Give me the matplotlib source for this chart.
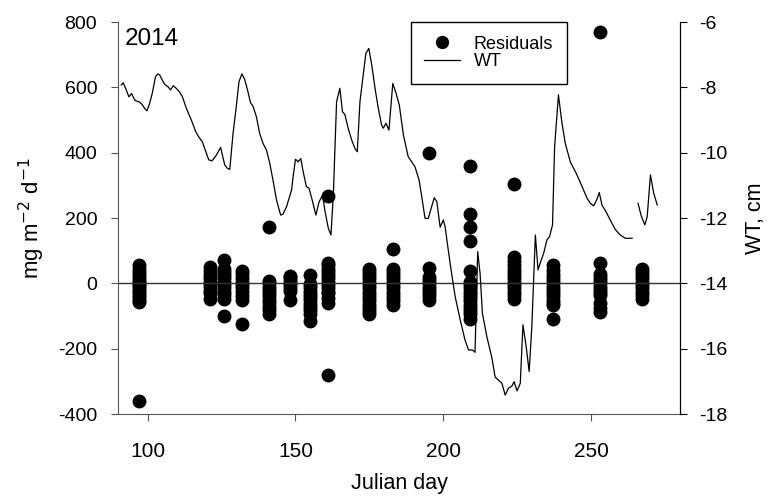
import numpy as np
import matplotlib.pyplot as plt

plt.rcParams['font.family'] = ['Liberation Sans', 'DejaVu Sans']
plt.rcParams['axes.unicode_minus'] = False

# residuals, grouped by sampling day
res_days = [97, 121, 126, 132, 141, 148, 155, 161, 175, 183, 195, 209, 224, 237, 253, 267]
res_vals = [
    [55, 45, 35, 25, 15, 8, 0, -5, -12, -20, -28, -35, -42, -50, -58, -359],
    [50, 38, 25, 15, 5, -3, -12, -22, -30, -49],
    [70, 45, 35, 25, 15, 5, -5, -15, -25, -35, -47, -100],
    [37, 28, 15, 5, -5, -15, -28, -38, -50, -123],
    [172, 8, 0, -10, -20, -30, -40, -50, -60, -72, -82, -93],
    [24, 18, 10, 2, -6, -14, -22, -52],
    [27, -2, -12, -22, -32, -42, -52, -62, -72, -82, -93, -116],
    [266, 63, 55, 45, 35, 25, 15, 5, -5, -15, -25, -31, -45, -59, -282],
    [45, 35, 25, 15, 5, -5, -15, -25, -35, -45, -55, -65, -75, -85, -93],
    [106, 45, 35, 25, 15, 5, -5, -15, -25, -35, -45, -55, -67],
    [398, 48, 20, 10, 0, -10, -20, -30, -40, -52],
    [358, 211, 174, 129, 37, 5, -5, -15, -25, -35, -45, -55, -65, -75, -85, -95, -110],
    [305, 80, 68, 55, 45, 35, 25, 15, 5, -5, -15, -25, -35, -47],
    [55, 40, 30, 20, 10, 0, -10, -20, -30, -40, -50, -60, -67, -108],
    [770, 63, 30, 20, 10, 0, -10, -20, -30, -37, -61, -75, -88],
    [45, 35, 25, 15, 5, -5, -15, -25, -35, -47],
]

# water table (cm), NaN marks the gap in the record
wt_day = [91.1, 91.8, 92.8, 93.7, 94.6, 95.3, 95.9, 97.1, 98.1, 99.0, 99.8, 100.7, 101.6,
          102.7, 103.5, 104.1, 105.0, 105.8, 106.9, 107.8, 108.7, 109.7, 110.8, 111.8,
          113.1, 114.8, 116.3, 117.4, 118.5, 119.3, 120.7, 121.8, 123.3, 124.7, 126.1,
          127.0, 127.8, 128.9, 130.0, 130.9, 131.9, 132.8, 133.8, 134.8, 135.7, 136.8,
          137.9, 139.0, 140.2, 141.3, 142.4, 143.6, 145.0, 145.8, 147.0, 148.7, 149.2,
          150.0, 150.9, 151.8, 152.6, 153.7, 154.6, 155.8, 156.9, 158.0, 159.2, 159.9,
          161.1, 162.0, 162.8, 163.9, 165.0, 165.9, 166.7, 167.8, 169.0, 170.1, 170.9,
          171.8, 172.9, 173.8, 174.8, 175.8, 176.9, 178.0, 179.1, 179.7, 180.6, 181.6,
          182.9, 184.0, 185.1, 186.5, 188.1, 190.4, 191.8, 192.7, 193.8, 194.9, 196.9,
          197.8, 198.9, 200.0, 200.6, 201.5, 202.6, 204.0, 205.7, 207.3, 208.5, 209.8,
          210.7, 211.6, 212.4, 213.2, 214.7, 216.4, 217.5, 218.6, 219.8, 220.9, 222.0,
          223.2, 223.9, 224.9, 226.0, 226.9, 228.0, 229.0, 229.9, 231.1, 232.0, 232.7,
          233.9, 235.0, 235.9, 236.9, 237.6, 238.9, 240.1, 241.2, 242.9, 244.9, 246.9,
          248.6, 249.7, 250.8, 251.9, 252.7, 253.6, 255.0, 256.4, 258.1, 259.8, 261.5,
          263.8, 264.8, 265.8, 266.9, 268.1, 268.9, 270.0, 271.1, 272.3]
wt_cm = [-7.93, -7.86, -8.08, -8.29, -8.19, -8.32, -8.41, -8.44, -8.52, -8.64, -8.72, -8.49,
         -8.18, -7.67, -7.59, -7.62, -7.78, -7.91, -7.98, -8.08, -7.95, -8.03, -8.14, -8.29,
         -8.64, -9.00, -9.36, -9.53, -9.66, -9.87, -10.22, -10.25, -10.07, -9.84, -10.38,
         -10.48, -10.51, -9.41, -8.59, -7.83, -7.59, -7.75, -8.08, -8.47, -8.59, -8.90,
         -9.41, -9.71, -9.92, -10.32, -10.84, -11.45, -11.91, -11.88, -11.65, -11.14, -10.74,
         -10.20, -10.28, -10.18, -10.58, -11.04, -11.09, -11.50, -11.91, -11.50, -11.30,
         -11.75, -12.31, -12.52, -11.30, -8.44, -8.03, -8.75, -8.83, -9.25, -9.61, -9.87,
         -9.97, -8.44, -7.62, -6.96, -6.81, -7.32, -8.03, -8.64, -9.15, -9.25, -9.10, -9.31,
         -7.88, -8.18, -8.54, -9.46, -10.12, -10.43, -10.84, -11.35, -12.01, -12.01, -11.38,
         -11.50, -12.28, -12.06, -12.27, -12.88, -13.59, -14.41, -15.12, -15.73, -16.04,
         -16.04, -16.11, -13.03, -13.69, -14.92, -15.63, -16.28, -16.87, -16.96, -17.06,
         -17.42, -17.21, -17.14, -17.01, -17.29, -17.06, -15.27, -15.94, -16.70, -15.33,
         -12.52, -13.59, -13.39, -13.08, -12.67, -12.57, -12.21, -9.82, -8.23, -9.10, -9.71,
         -10.28, -10.63, -11.04, -11.40, -11.55, -11.63, -11.43, -11.22, -11.60, -11.81,
         -12.06, -12.35, -12.52, -12.62, -12.62, np.nan, -11.55, -11.94, -12.21, -11.96,
         -10.68, -11.24, -11.60]

fig = plt.figure(figsize=(7.69, 4.99), dpi=100)
ax = fig.add_axes([0.1534, 0.1703, 0.7309, 0.7856])
ax2 = ax.twinx()

xs = np.concatenate([[d] * len(v) for d, v in zip(res_days, res_vals)])
ys = np.concatenate(res_vals)
pts, = ax.plot(xs, ys, 'o', color='black', markersize=9, label='Residuals')
ax.axhline(0, color='#333333', lw=1)

wt_line, = ax2.plot(wt_day, wt_cm, color='black', lw=0.9, label='WT')

ax.set_xlim(90, 280)
ax.set_ylim(-400, 800)
ax.set_yticks(range(-400, 801, 200))
ax.set_xticks([100, 150, 200, 250])
ax2.set_ylim(-18, -6)
ax2.set_yticks(range(-18, -5, 2))

gray = '#555555'
ax.spines['top'].set_visible(False)
ax2.spines['top'].set_visible(False)
ax.spines['left'].set_color(gray)
ax.spines['bottom'].set_color(gray)
ax2.spines['left'].set_visible(False)
ax2.spines['bottom'].set_visible(False)
ax.tick_params(axis='both', colors=gray, labelcolor='black', length=5)
ax.tick_params(axis='x', labelsize=15, pad=15)
ax.tick_params(axis='y', labelsize=14, pad=10)
ax2.tick_params(axis='y', labelsize=14, length=5, pad=8.5)

ax.set_xlabel('Julian day', fontsize=15.5, labelpad=9)
ax.set_ylabel('mg m$^{-2}$ d$^{-1}$', fontsize=16, labelpad=8)
ax2.set_ylabel('WT, cm', fontsize=15.5, labelpad=13)

ax.text(0.012, 0.985, '2014', transform=ax.transAxes, fontsize=17.5, va='top', ha='left')

leg = ax2.legend([pts, wt_line], ['Residuals', 'WT'], loc='upper left',
                 bbox_to_anchor=(0.521, 1.0), borderaxespad=0, fontsize=13,
                 fancybox=False, edgecolor='black', framealpha=1,
                 labelspacing=0.05, handlelength=1.95, handletextpad=0.8,
                 borderpad=0.75, markerscale=0.95)
leg.get_frame().set_linewidth(1.0)

fig.savefig('out.png', dpi=100)
